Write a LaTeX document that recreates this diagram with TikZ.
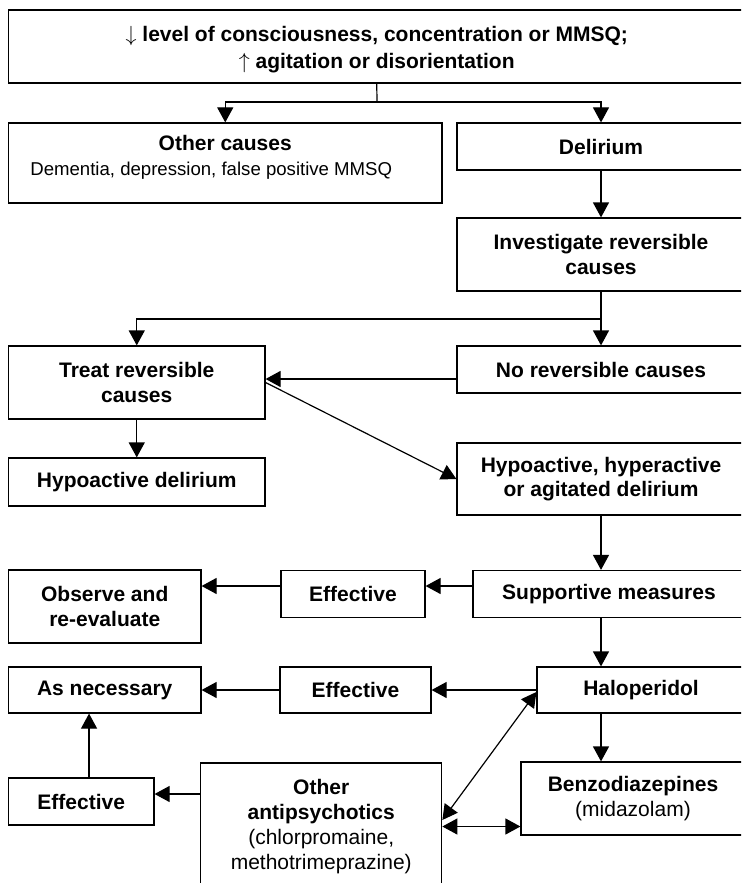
\documentclass[tikz,border=0pt]{standalone}
\usepackage{fontspec}
\setmainfont{Liberation Sans}
\usepackage{tikz}
\usetikzlibrary{arrows.meta, positioning}

\tikzset{
	box/.style={draw, line width=0.6pt, inner sep=0pt, align=center,
		font=\fontsize{10.5}{12.25}\selectfont},
	bbox/.style={box, font=\fontsize{10.5}{12.25}\selectfont\bfseries},
	txt/.style={inner sep=0pt, align=center, font=\fontsize{10.5}{12.25}\selectfont},
	arr/.style={-{Triangle[length=7.5pt,width=8pt]}, line width=0.6pt},
	dbl/.style={{Triangle[length=7.5pt,width=8pt]}-{Triangle[length=7.5pt,width=8pt]}, line width=0.6pt}
}

\begin{document}
\begin{tikzpicture}[x=0.5pt,y=-0.5pt]
		\useasboundingbox (0,0) rectangle (741,883);
		\clip (0,0) rectangle (741,883);
		% boxes
		\node[bbox, minimum width=368.25pt, minimum height=36.5pt] (top) at (376.75,46.5) {};
		\node[txt, font=\fontsize{10.5}{12.25}\selectfont\bfseries] at ([yshift=-1.5pt]top.center)
		{$\downarrow$ level of consciousness, concentration or MMSQ;\\[1.25pt] $\uparrow$ agitation or disorientation};
		\node[box, minimum width=216.75pt, minimum height=40pt] (other) at (225.25,163) {};
		\node[txt] at ([yshift=2.75pt]other.center)
		{\bfseries Other causes\\[0.3pt]
		\fontsize{9.3}{11}\selectfont Dementia, depression, false positive MMSQ\hspace*{14pt}};
		\node[bbox, minimum width=144pt, minimum height=23.5pt] (delirium) at (601,146.5) {Delirium};
		\node[bbox, minimum width=144pt, minimum height=36.5pt] (invest) at (601,254.5)
		{Investigate reversible\\ causes};
		\node[bbox, minimum width=128.25pt, minimum height=36.5pt] (treat) at (136.75,382.5)
		{Treat reversible\\ causes};
		\node[bbox, minimum width=144pt, minimum height=23.5pt] (norev) at (601,369.5) {No reversible causes};
		\node[bbox, minimum width=128.25pt, minimum height=24pt] (hypo) at (136.75,482) {Hypoactive delirium};
		\node[bbox, minimum width=144pt, minimum height=36pt] (hyper) at (601,479)
		{Hypoactive, hyperactive\\ or agitated delirium};
		\node[bbox, minimum width=96.25pt, minimum height=36.5pt] (observe) at (104.75,606.5)
		{Observe and\\ re-evaluate};
		\node[bbox, minimum width=72pt, minimum height=23.5pt] (effa) at (353,594) {Effective};
		\node[bbox, minimum width=136pt, minimum height=23.5pt] (support) at (609,594) {Supportive measures};
		\node[bbox, minimum width=96.25pt, minimum height=23pt] (asnec) at (104.75,690) {As necessary};
		\node[bbox, minimum width=75.5pt, minimum height=23pt] (effb) at (355.5,690) {Effective};
		\node[bbox, minimum width=104pt, minimum height=23pt] (halo) at (641,690) {Haloperidol};
		\node[bbox, minimum width=72.75pt, minimum height=23.5pt] (effc) at (81.25,801.5) {Effective};
		\node[box, minimum width=120.5pt, minimum height=63.5pt, font=\fontsize{10.5}{12.6}\selectfont] (antipsy) at (321.25,826.5)
		{\textbf{Other}\\ \textbf{antipsychotics}\\ (chlorpromaine,\\ methotrimeprazine)};
		\node[box, minimum width=112pt, minimum height=36.5pt] (benzo) at (633,798.5)
		{\textbf{Benzodiazepines}\\ (midazolam)};
		% connectors
		\coordinate (split1) at (377,102);
		\coordinate (split2) at (601,319);
		\draw[line width=0.6pt] (top.south) -- (split1);
		\draw[arr] (split1) -| (other.north);
		\draw[arr] (split1) -| (delirium.north);
		\draw[arr] (delirium) -- (invest);
		\draw[line width=0.6pt] (invest.south) -- (split2);
		\draw[arr] (split2) -| (treat.north);
		\draw[arr] (split2) -- (norev.north);
		\draw[arr] ([yshift=-4.75pt]norev.west) -- ([yshift=-4.75pt]norev.west -| treat.east);
		\draw[arr] (treat) -- (hypo);
		\draw[arr] (treat.east) -- (hyper.west);
		\draw[arr] (hyper.south) -- (hyper.south |- support.north);
		\draw[arr] ([yshift=4pt]support.west) -- ([yshift=4pt]support.west -| effa.east);
		\draw[arr] ([yshift=4pt]effa.west) -- ([yshift=4pt]effa.west -| observe.east);
		\draw[arr] (hyper.south |- support.south) -- (hyper.south |- halo.north);
		\draw[arr] (halo.west) -- (effb.east);
		\draw[arr] (effb.west) -- (asnec.east);
		\draw[arr] ([xshift=3.9pt]effc.north) -- ([xshift=3.9pt]effc.north |- asnec.south);
		\draw[arr] ([yshift=16.25pt]antipsy.west) -- ([yshift=16.25pt]antipsy.west -| effc.east);
		\draw[arr] (hyper.south |- halo.south) -- (hyper.south |- benzo.north);
		\draw[dbl] ([yshift=-1pt]halo.west) -- ([yshift=3.25pt]antipsy.east);
		\draw[dbl] (antipsy.east) -- (antipsy.east -| benzo.west);
	\end{tikzpicture}
\end{document}
